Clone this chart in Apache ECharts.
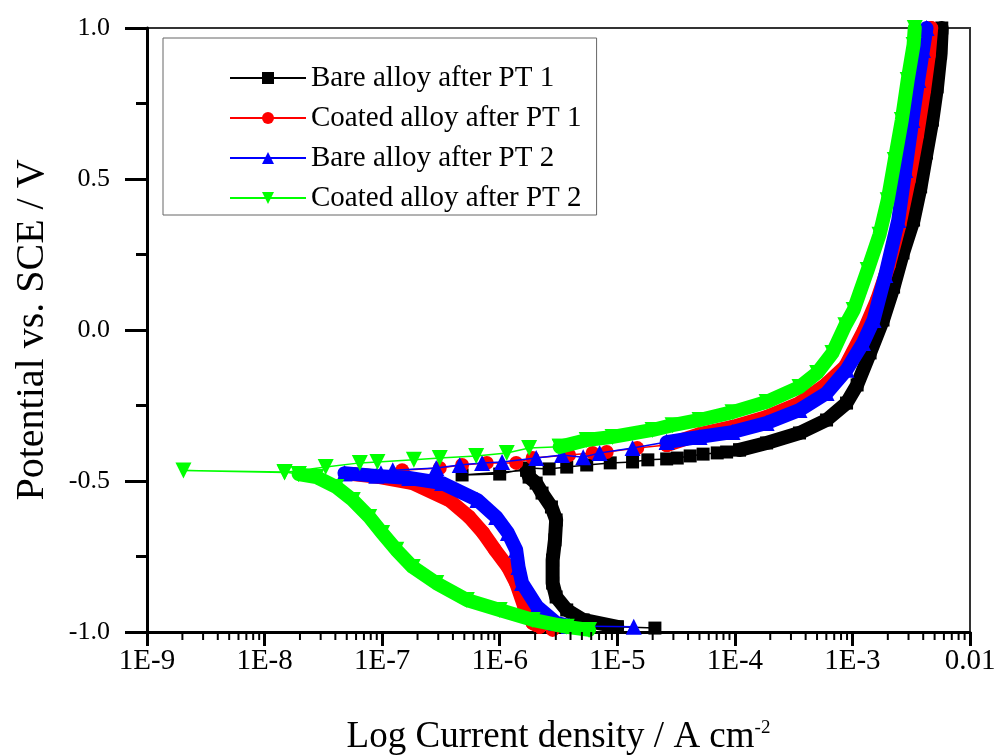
<!DOCTYPE html>
<html><head><meta charset="utf-8">
<script src="https://cdn.jsdelivr.net/npm/echarts@6/dist/echarts.min.js"></script>
<style>html,body{margin:0;padding:0;background:#fff}#chart{width:997px;height:756px}</style>
</head><body><div id="chart"></div>
<script>
const seriesNames = ['Bare alloy after PT 1', 'Coated alloy after PT 1', 'Bare alloy after PT 2', 'Coated alloy after PT 2'];
const xTickLabels = ['1E-9', '1E-8', '1E-7', '1E-6', '1E-5', '1E-4', '1E-3', '0.01'];
const yTickLabels = ['-1.0', '-0.5', '0.0', '0.5', '1.0'];

// points are [log10(current density / A cm^-2), potential / V vs SCE]
// dense parts (drawn as thick bands)
const bare1Cathodic = [[-5.00,-0.983],[-5.29,-0.960],[-5.43,-0.927],[-5.52,-0.884],[-5.55,-0.838],[-5.55,-0.762],[-5.53,-0.695],[-5.52,-0.629],[-5.56,-0.586],[-5.64,-0.540],[-5.69,-0.507],[-5.75,-0.487],[-5.77,-0.464]];
const bare1Anodic = [[-3.96,-0.397],[-3.73,-0.374],[-3.45,-0.341],[-3.22,-0.298],[-3.05,-0.242],[-2.96,-0.182],[-2.85,-0.076],[-2.74,0.033],[-2.65,0.142],[-2.57,0.255],[-2.48,0.364],[-2.42,0.474],[-2.37,0.586],[-2.32,0.695],[-2.28,0.805],[-2.25,0.917],[-2.24,1.0]];
// sparse parts (thin line)
const bare1Start = [[-4.68,-0.987],[-5.00,-0.983]];
const bare1Ecorr = [[-5.77,-0.464],[-6.32,-0.480],[-6.00,-0.477],[-5.75,-0.457],[-5.58,-0.460],[-5.43,-0.454],[-5.26,-0.447],[-5.06,-0.440],[-4.87,-0.437],[-4.74,-0.430],[-4.58,-0.427],[-4.49,-0.424],[-4.38,-0.417],[-4.27,-0.411],[-4.15,-0.407],[-4.07,-0.404],[-3.96,-0.397]];

const coated1Cathodic = [[-5.66,-0.983],[-5.72,-0.970],[-5.79,-0.917],[-5.86,-0.838],[-5.93,-0.785],[-6.04,-0.728],[-6.14,-0.672],[-6.26,-0.619],[-6.43,-0.563],[-6.74,-0.507],[-7.02,-0.487],[-7.25,-0.477]];
const coated1Anodic = [[-4.58,-0.381],[-4.30,-0.345],[-4.02,-0.321],[-3.73,-0.288],[-3.45,-0.242],[-3.23,-0.182],[-3.06,-0.120],[-2.90,0.0],[-2.79,0.10],[-2.69,0.215],[-2.60,0.348],[-2.52,0.497],[-2.45,0.646],[-2.39,0.795],[-2.35,0.911],[-2.33,1.0]];
const coated1Start = [[-5.55,-0.993],[-5.66,-0.983]];
const coated1Ecorr = [[-7.25,-0.477],[-6.83,-0.464],[-6.51,-0.457],[-6.32,-0.447],[-6.11,-0.440],[-5.86,-0.440],[-5.72,-0.424],[-5.41,-0.414],[-5.21,-0.407],[-5.09,-0.404],[-4.83,-0.391],[-4.58,-0.381]];

const bare2Cathodic = [[-5.41,-0.980],[-5.52,-0.970],[-5.68,-0.917],[-5.81,-0.838],[-5.84,-0.785],[-5.86,-0.728],[-5.93,-0.672],[-6.03,-0.619],[-6.19,-0.563],[-6.49,-0.507],[-6.77,-0.490],[-7.05,-0.483],[-7.32,-0.474]];
const bare2Anodic = [[-4.58,-0.371],[-4.30,-0.354],[-4.02,-0.338],[-3.73,-0.308],[-3.45,-0.265],[-3.22,-0.209],[-3.05,-0.132],[-2.91,-0.043],[-2.82,0.033],[-2.72,0.182],[-2.61,0.364],[-2.55,0.530],[-2.49,0.695],[-2.44,0.828],[-2.40,0.927],[-2.37,1.0]];
const bare2Start = [[-4.86,-0.983],[-5.41,-0.980]];
const bare2Ecorr = [[-7.32,-0.474],[-7.01,-0.474],[-6.91,-0.464],[-6.54,-0.457],[-6.34,-0.447],[-6.15,-0.440],[-5.98,-0.437],[-5.69,-0.424],[-5.47,-0.414],[-5.29,-0.421],[-5.15,-0.407],[-4.87,-0.391],[-4.58,-0.371]];

const coated2Cathodic = [[-5.24,-0.993],[-5.43,-0.983],[-5.72,-0.960],[-6.00,-0.927],[-6.28,-0.894],[-6.54,-0.838],[-6.74,-0.785],[-6.88,-0.728],[-7.00,-0.672],[-7.11,-0.619],[-7.25,-0.563],[-7.39,-0.520],[-7.56,-0.487],[-7.71,-0.477]];
const coated2Anodic = [[-5.49,-0.387],[-5.26,-0.364],[-5.04,-0.354],[-4.70,-0.331],[-4.53,-0.315],[-4.30,-0.298],[-4.02,-0.272],[-3.73,-0.238],[-3.45,-0.189],[-3.30,-0.142],[-3.17,-0.076],[-3.06,0.016],[-2.99,0.066],[-2.87,0.199],[-2.77,0.315],[-2.70,0.430],[-2.64,0.563],[-2.58,0.695],[-2.53,0.828],[-2.48,0.944],[-2.47,1.0]];
const coated2Start = [];
const coated2Ecorr = [[-7.71,-0.477],[-7.83,-0.470],[-8.69,-0.465],[-7.83,-0.472],[-7.48,-0.454],[-7.19,-0.440],[-7.04,-0.437],[-6.73,-0.430],[-6.51,-0.424],[-6.20,-0.417],[-5.94,-0.407],[-5.75,-0.391],[-5.49,-0.387]];

const FONT = 'Liberation Serif';
const toPts = arr => arr.map(p => [Math.pow(10, p[0]), p[1]]);

const curves = [
  {name: seriesNames[0], color: '#000000', symbol: 'rect', size: 13, rot: 0, cath: bare1Cathodic, an: bare1Anodic, start: bare1Start, ecorr: bare1Ecorr},
  {name: seriesNames[1], color: '#ff0000', symbol: 'circle', size: 14, rot: 0, cath: coated1Cathodic, an: coated1Anodic, start: coated1Start, ecorr: coated1Ecorr},
  {name: seriesNames[2], color: '#0000ff', symbol: 'triangle', size: 16, rot: 0, cath: bare2Cathodic, an: bare2Anodic, start: bare2Start, ecorr: bare2Ecorr},
  {name: seriesNames[3], color: '#00ff00', symbol: 'triangle', size: 16, rot: 180, cath: coated2Cathodic, an: coated2Anodic, start: coated2Start, ecorr: coated2Ecorr}
];

const series = [];
curves.forEach((c, i) => {
  const thinData = toPts(c.start).concat(c.start.length ? [null] : [], toPts(c.ecorr));
  series.push({
    name: c.name, type: 'line', data: thinData, symbol: c.symbol, symbolSize: c.size, symbolRotate: c.rot,
    showAllSymbol: true, connectNulls: false, lineStyle: {color: c.color, width: 1.5},
    itemStyle: {color: c.color}, animation: false, z: 3 + i
  });
  series.push({
    name: c.name, type: 'line', data: toPts(c.cath).concat([null], toPts(c.an)), symbol: c.symbol, symbolSize: c.size, symbolRotate: c.rot,
    showAllSymbol: true, connectNulls: false, lineStyle: {color: c.color, width: 14, join: 'round', cap: 'round'},
    itemStyle: {color: c.color}, animation: false, z: 3 + i
  });
});

// minor ticks of the log axis (2..9 x each decade)
const xMinorTicks = [];
for (let d = -9; d < -2; d++) for (let m = 2; m <= 9; m++) xMinorTicks.push(m * Math.pow(10, d));
series.push({
  type: 'custom', silent: true, clip: false, animation: false, z: 10,
  data: xMinorTicks.map(v => [v, -1]),
  renderItem: (params, api) => {
    const p = api.coord([api.value(0), -1]);
    return {type: 'line', shape: {x1: p[0], y1: p[1], x2: p[0], y2: p[1] + 8}, style: {stroke: '#000', lineWidth: 2}};
  }
});

const chart = echarts.init(document.getElementById('chart'), null, {renderer: 'canvas'});
chart.setOption({
  backgroundColor: '#fff',
  animation: false,
  grid: {left: 147, right: 27, top: 28, bottom: 124, containLabel: false, outerBoundsMode: 'none',
    show: true, borderColor: '#333', borderWidth: 2, backgroundColor: 'transparent'},
  legend: {
    data: seriesNames, orient: 'vertical', left: 163, top: 38, z: 20,
    padding: [25, 15, 2, 66], itemGap: 10, itemWidth: 76, itemHeight: 15,
    borderColor: '#666', borderWidth: 1, backgroundColor: '#fff',
    textStyle: {fontFamily: FONT, fontSize: 29, color: '#000', lineHeight: 30},
    lineStyle: {width: 2}
  },
  xAxis: {
    type: 'log', logBase: 10, min: 1e-9, max: 1e-2, splitNumber: 7,
    axisLine: {onZero: false, lineStyle: {color: '#000', width: 3}},
    axisTick: {inside: false, length: 14, lineStyle: {color: '#000', width: 3}},
    splitLine: {show: false},
    axisLabel: {fontFamily: FONT, fontSize: 29, color: '#000', margin: 15,
      formatter: v => xTickLabels[Math.round(Math.log10(v)) + 9]},
    name: 'Log Current density / A cm{sup|-2}', nameLocation: 'middle', nameGap: 87,
    nameTextStyle: {fontFamily: FONT, fontSize: 37, color: '#000',
      rich: {sup: {fontFamily: FONT, fontSize: 19, color: '#000', verticalAlign: 'top', lineHeight: 19}}}
  },
  yAxis: {
    type: 'value', min: -1, max: 1, interval: 0.5,
    axisLine: {onZero: false, lineStyle: {color: '#000', width: 3}},
    axisTick: {inside: false, length: 22, lineStyle: {color: '#000', width: 3}},
    minorTick: {show: true, splitNumber: 2, length: 11, lineStyle: {color: '#000', width: 3}},
    splitLine: {show: false}, minorSplitLine: {show: false},
    axisLabel: {fontFamily: FONT, fontSize: 26, color: '#000', margin: 37,
      formatter: v => yTickLabels[Math.round((v + 1) / 0.5)]},
    name: 'Potential vs. SCE / V', nameLocation: 'middle', nameRotate: 90, nameGap: 95,
    nameTextStyle: {fontFamily: FONT, fontSize: 40, color: '#000'}
  },
  series: series
});
</script>
</body></html>
